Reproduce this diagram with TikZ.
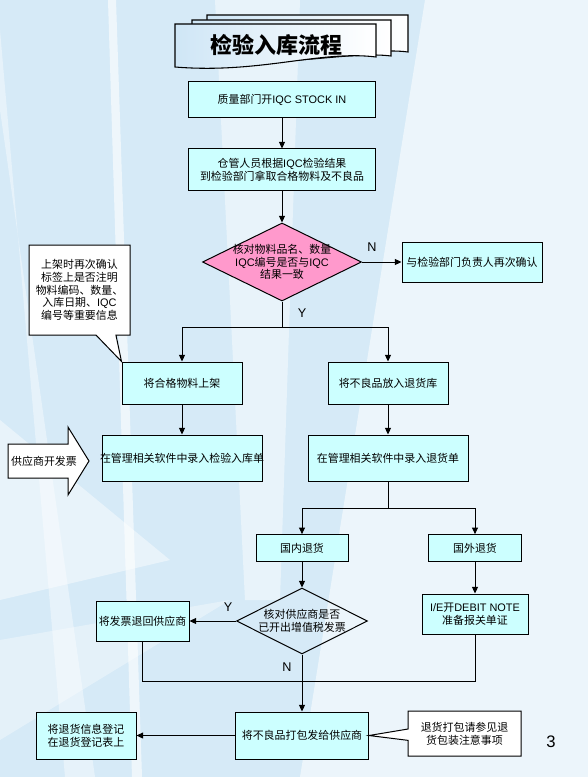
\documentclass[tikz,border=0pt]{standalone}
\usepackage{fontspec}
\setmainfont{Noto Sans CJK SC}
\newfontfamily\latin{Liberation Sans}
\usepackage{tikz}
\usetikzlibrary{positioning,arrows.meta,shapes.geometric,shapes.callouts,calc}
\definecolor{BoxCyan}{HTML}{CCFFFF}
\definecolor{DecidePink}{HTML}{FF99CC}
\definecolor{BgBlue}{HTML}{D6EAF7}
\definecolor{DocBlue}{HTML}{CFE6F6}

\begin{document}
\begin{tikzpicture}[
  x=0.75pt,y=-0.75pt,
  every node/.style={font=\fontsize{8.2pt}{9.6pt}\selectfont,inner sep=1pt},
  box/.style={draw,fill=BoxCyan,align=center,line width=0.75pt},
  decide/.style={draw,diamond,inner sep=0pt,line width=0.75pt},
  note/.style={draw,fill=white,align=center,line width=0.75pt,rectangle callout},
  arr/.style={-{Triangle[length=5pt,width=4.5pt]},line width=0.75pt},
  yn/.style={font=\latin\fontsize{9.5pt}{11pt}\selectfont},
  doc/.style={draw,line width=0.8pt,left color=DocBlue,right color=white}
]
% slide background
\useasboundingbox (0,0) rectangle (588,777);
\fill[BgBlue] (0,0) rectangle (588,777);
\fill[white,opacity=0.55] (425,0) -- (588,0) -- (588,777) -- (300,777) -- cycle;
\fill[white,opacity=0.45] (215,0) -- (300,0) -- (280,600) -- (245,600) -- cycle;
\fill[white,opacity=0.6] (108,0) -- (116,0) -- (142,777) -- (132,777) -- cycle;
\fill[white,opacity=0.4] (0,30) -- (0,110) -- (95,777) -- (65,777) -- cycle;
\fill[white,opacity=0.45] (0,420) -- (170,560) -- (0,600) -- cycle;
\fill[white,opacity=0.35] (0,640) -- (230,600) -- (0,740) -- cycle;

% title
\draw[doc] (207,15) -- (408,15) -- (408,52) .. controls (370,47) and (320,62) .. (207,58) -- cycle;
\draw[doc] (192,20) -- (391,20) -- (391,56) .. controls (350,51) and (300,66) .. (192,62) -- cycle;
\draw[doc] (175,24) -- (376,24) -- (376,57) .. controls (320,50) and (260,74) .. (175,67) -- cycle;
\node[font=\bfseries\fontsize{16.5pt}{18pt}\selectfont] (title) at (276,45) {检验入库流程};

% main column
\node[box,minimum width=140.25pt,minimum height=27pt] (stockin) at (282,100) {质量部门开{\latin IQC STOCK IN}};
\node[box,minimum width=140.25pt,minimum height=31.5pt] (fetch) at (282,170) {仓管人员根据{\latin IQC}检验结果\\到检验部门拿取合格物料及不良品};
\node[decide,fill=DecidePink,minimum width=119.25pt,minimum height=58.5pt] (check) at (282,262) {};
\node[align=center] (checktext) at (check) {核对物料品名、数量\\{\latin IQC}编号是否与{\latin IQC}\\结果一致};
\node[box,minimum width=105pt,minimum height=30pt] (recheck) at (472,262) {与检验部门负责人再次确认};

\node[box,minimum width=90pt,minimum height=31.5pt] (shelf) at (182,383) {将合格物料上架};
\node[box,minimum width=90pt,minimum height=31.5pt] (badstore) at (388,383) {将不良品放入退货库};
\node[box,minimum width=120pt,minimum height=34.5pt] (stockentry) at (182,458) {\makebox[116pt]{在管理相关软件中录入检验入库单}};
\node[box,minimum width=120pt,minimum height=34.5pt] (returnentry) at (388,458) {在管理相关软件中录入退货单};

\node[box,minimum width=69pt,minimum height=20pt] (domestic) at (302,548) {国内退货};
\node[box,minimum width=69.75pt,minimum height=20pt] (overseas) at (475,548) {国外退货};
\node[decide,minimum width=98.25pt,minimum height=49.5pt] (vatcheck) at (302,621) {};
\node[align=center] (vattext) at (vatcheck) {核对供应商是否\\已开出增值税发票};
\node[box,minimum width=69.75pt,minimum height=30pt] (invback) at (142.5,621) {将发票退回供应商};
\node[box,minimum width=79.5pt,minimum height=30pt] (debit) at (475,614) {{\latin I/E}开{\latin DEBIT NOTE}\\准备报关单证};

\node[box,minimum width=99.75pt,minimum height=35.25pt] (pack) at (302,735.5) {将不良品打包发给供应商};
\node[box,minimum width=75pt,minimum height=35.25pt] (logbook) at (86,735.5) {将退货信息登记\\在退货登记表上};

% notes
\node[note,minimum width=75.75pt,minimum height=67.5pt,
  callout absolute pointer={(shelf.north west)},callout pointer width=15pt] (shelfnote) at (79.5,290)
  {上架时再次确认\\标签上是否注明\\物料编码、数量、\\入库日期、{\latin IQC}\\编号等重要信息};
\node[note,minimum width=84.75pt,minimum height=33.75pt,
  callout absolute pointer={(pack.east)},callout pointer width=8.5pt] (packnote) at (464.5,733.5)
  {退货打包请参见退\\货包装注意事项};

% supplier invoice
\draw[fill=white,line width=0.75pt] (8,444) -- (68,444) -- (68,427) -- (89,461) -- (68,495) -- (68,478) -- (8,478) -- cycle;
\node (invoice) at (44,461) {供应商开发票};

% connectors
\draw[arr] (stockin) -- (fetch);
\draw[arr] (fetch) -- (check);
\draw[arr] (check) -- (recheck);
\node[yn] (nlabel) at (372,247) {N};
\coordinate (ysplit) at (282,327);
\draw[line width=0.75pt] (check.south) -- (ysplit);
\draw[arr] (ysplit) -| (shelf.north);
\draw[arr] (ysplit) -| (badstore.north);
\node[yn] (ylabel) at (302,313) {Y};
\draw[arr] (shelf) -- (stockentry);
\draw[arr] (badstore) -- (returnentry);
\coordinate (rsplit) at (388,508);
\draw[line width=0.75pt] (returnentry.south) -- (rsplit);
\draw[arr] (rsplit) -| (domestic.north);
\draw[arr] (rsplit) -| (overseas.north);
\draw[arr] (domestic) -- (vatcheck);
\draw[arr] (vatcheck) -- (invback);
\node[yn] (ylabel2) at (228,607) {Y};
\draw[arr] (overseas) -- (debit);
\coordinate (merge) at (302,681);
\draw[line width=0.75pt] (invback.south) |- (merge);
\draw[line width=0.75pt] (debit.south) |- (merge);
\draw[arr] (vatcheck.south) -- (pack.north);
\node[yn] (nlabel2) at (287,667) {N};
\draw[arr] (pack) -- (logbook);

\node[font=\latin\fontsize{12.5pt}{14pt}\selectfont] (pageno) at (551,742) {3};
\end{tikzpicture}
\end{document}
